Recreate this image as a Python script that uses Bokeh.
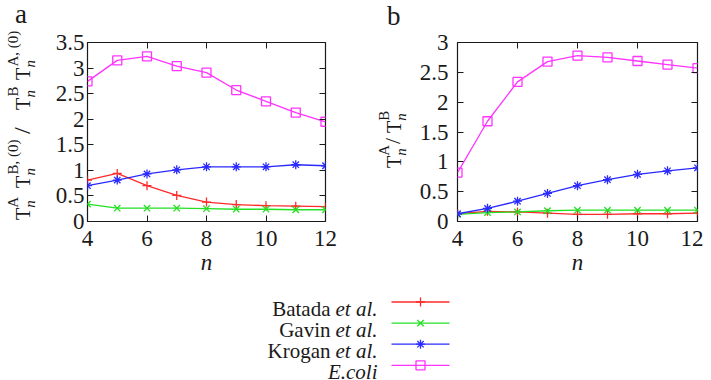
import numpy as np
from bokeh.plotting import figure
from bokeh.models import Range1d, FixedTicker, LinearAxis, CustomJSTickFormatter, Div
from bokeh.layouts import row, column
from bokeh.embed import file_html
from bokeh.resources import INLINE

# ---------------- data ----------------
n = [4, 5, 6, 7, 8, 9, 10, 11, 12]
series_names = ["Batada et al.", "Gavin et al.", "Krogan et al.", "E.coli"]

a_batada = [0.81, 0.94, 0.70, 0.51, 0.38, 0.33, 0.31, 0.30, 0.29]
a_gavin = [0.34, 0.26, 0.26, 0.26, 0.25, 0.24, 0.24, 0.23, 0.23]
a_krogan = [0.70, 0.81, 0.93, 1.01, 1.07, 1.07, 1.07, 1.11, 1.09]
a_ecoli = [2.74, 3.15, 3.23, 3.04, 2.91, 2.57, 2.35, 2.13, 1.95]

b_batada = [0.13, 0.17, 0.16, 0.14, 0.12, 0.12, 0.13, 0.13, 0.14]
b_gavin = [0.12, 0.15, 0.16, 0.18, 0.19, 0.19, 0.19, 0.19, 0.19]
b_krogan = [0.13, 0.22, 0.34, 0.47, 0.60, 0.70, 0.79, 0.85, 0.90]
b_ecoli = [0.82, 1.68, 2.34, 2.68, 2.78, 2.75, 2.69, 2.63, 2.57]

x_ticks = [4, 6, 8, 10, 12]
a_yticks = [0, 0.5, 1, 1.5, 2, 2.5, 3, 3.5]
b_yticks = [0, 0.5, 1, 1.5, 2, 2.5, 3]

# ---------------- style ----------------
colors = ["#ff2a2a", "#22e022", "#2a2aff", "#ff33ff"]
markers = ["cross", "x", "asterisk", "square"]
SERIF = "Liberation Serif"
INK = "#1a1a1a"
FH = 179                     # frame height
TOPB, BOTB = 42, 66          # top / bottom borders of the panels
PH = TOPB + FH + BOTB        # panel figure height
ASC = 0.8375                 # baseline position inside a line box of line-height 1em


def style_axes(p, yticks, ystandoff):
    fmt = CustomJSTickFormatter(code="return tick.toString();")
    p.add_layout(LinearAxis(), "above")
    p.add_layout(LinearAxis(), "right")
    for ax in p.xaxis:
        ax.ticker = FixedTicker(ticks=x_ticks)
    for ax in p.yaxis:
        ax.ticker = FixedTicker(ticks=yticks)
    for ax in list(p.xaxis) + list(p.yaxis):
        ax.formatter = fmt
        ax.axis_line_color = None
        ax.major_tick_in = 6
        ax.major_tick_out = 0
        ax.major_tick_line_color = INK
        ax.major_tick_line_width = 1
        ax.minor_tick_line_color = None
        ax.major_label_text_font = SERIF
        ax.major_label_text_font_size = "23px"
        ax.major_label_text_color = INK
    for ax in [p.above[0], p.right[0]]:
        ax.major_label_text_font_size = "0px"
        ax.major_label_standoff = 0
    p.below[0].major_label_standoff = 9
    p.left[0].major_label_standoff = ystandoff
    xa = p.below[0]
    xa.axis_label = "n"
    xa.axis_label_text_font = SERIF
    xa.axis_label_text_font_style = "italic"
    xa.axis_label_text_font_size = "23px"
    xa.axis_label_text_color = INK
    xa.axis_label_standoff = 1


def make_panel(frame_w, bl, br, y_end, yticks, ystandoff, series):
    p = figure(frame_width=frame_w, frame_height=FH,
               min_border_left=bl, min_border_right=br,
               min_border_top=TOPB, min_border_bottom=BOTB,
               x_range=Range1d(4, 12), y_range=Range1d(0, y_end),
               output_backend="svg", toolbar_location=None, tools="")
    p.xgrid.visible = False
    p.ygrid.visible = False
    p.outline_line_color = INK
    p.outline_line_width = 1.2
    p.background_fill_color = "white"
    p.border_fill_color = "white"
    style_axes(p, yticks, ystandoff)
    for vals, c, m in zip(series, colors, markers):
        p.line(n, vals, line_color=c, line_width=1.3)
        p.scatter(n, vals, marker=m, size=9, line_color=c, fill_color=None, line_width=1.3)
    return p


def span(text, left, top, size, style="normal"):
    return (f'<span style="position:absolute;left:{left}px;top:{top:.2f}px;white-space:nowrap;'
            f'font-family:\'Liberation Serif\',\'Times New Roman\',serif;font-size:{size}px;line-height:{size}px;'
            f'font-style:{style};color:{INK};">{text}</span>')


def label_div(width, letter, lx, lbase, base_x, start_y, pieces):
    """letter at (lx, baseline lbase); rotated label with main baseline at x=base_x, starting at y=start_y."""
    html = [f'<div style="position:relative;width:{width}px;height:{PH}px;">']
    html.append(span(letter, lx, lbase - ASC * 27, 27))
    L = base_x - ASC * 20
    inner = []
    for t, size, style, dv, s in pieces:
        v = ASC * 20 + dv              # baseline of this piece inside the rotated box
        inner.append(span(t, s, v - ASC * size, size, style))
    html.append(f'<div style="position:absolute;left:{L:.2f}px;top:{start_y}px;width:200px;height:30px;'
                f'transform-origin:0 0;transform:rotate(-90deg);">' + "".join(inner) + "</div>")
    html.append("</div>")
    return Div(text="".join(html), width=width, height=PH, margin=0)


LWA, LWB = 40, 45
pa = make_panel(238, 87 - LWA, 40, 3.5, a_yticks, 3, [a_batada, a_gavin, a_krogan, a_ecoli])
pb = make_panel(240, 457 - (LWA + (87 - LWA) + 238 + 40) - LWB, 6, 3.0, b_yticks, 9,
                [b_batada, b_gavin, b_krogan, b_ecoli])

SUB, SUP = 5.5, -11.0
pieces_a = [
    ("T", 20, "normal", 0, 0), ("n", 15, "italic", SUB, 12.2), ("A", 15, "normal", SUP, 12.2),
    ("T", 20, "normal", 0, 32), ("n", 15, "italic", SUB, 44.5), ("B, (0)", 15, "normal", SUP, 45.5),
    ("/", 24, "normal", 0, 86),
    ("T", 20, "normal", 0, 110), ("n", 15, "italic", SUB, 122.5), ("B", 15, "normal", SUP, 123.5),
    ("T", 20, "normal", 0, 140), ("n", 15, "italic", SUB, 152.5), ("A, (0)", 15, "normal", SUP, 153.5),
]
pieces_b = [
    ("T", 20, "normal", 0, 0), ("n", 15, "italic", SUB, 12.2), ("A", 15, "normal", SUP, 12.2),
    ("/", 22, "normal", 0, 24),
    ("T", 20, "normal", 0, 35), ("n", 15, "italic", SUB, 47.2), ("B", 15, "normal", SUP, 47.2),
]
la = label_div(LWA, "a", 15, 24, 30, 220, pieces_a)
lb = label_div(LWB, "b", 22, 26, 36, 168, pieces_b)

# ---------------- legend ----------------
LH = 380 - PH
lg = figure(width=703, height=LH, x_range=Range1d(0, 703), y_range=Range1d(LH, 0),
            min_border=0, output_backend="svg", toolbar_location=None, tools="")
lg.axis.visible = False
lg.grid.visible = False
lg.outline_line_color = None
lg.background_fill_color = "white"
lg.border_fill_color = "white"

rows_y = [301.5 - PH + 21.1 * i for i in range(len(series_names))]
mains, itals = [], []
for name in series_names:
    if name.endswith(" et al."):
        mains.append(name[:-7])
        itals.append("et al.")
    else:
        mains.append("")
        itals.append(name)
text_y = [y + 7.0 for y in rows_y]
lg.text(x=[377] * 4, y=text_y, text=itals, text_font={"value": SERIF},
        text_font_size="21px", text_font_style="italic", text_color=INK,
        text_align="right", text_baseline="alphabetic")
lg.text(x=[377] * 3, y=text_y[:3], text=mains[:3], x_offset=-47, text_font={"value": SERIF},
        text_font_size="21px", text_color=INK, text_align="right", text_baseline="alphabetic")
for y, c, m in zip(rows_y, colors, markers):
    lg.segment(x0=391, y0=y, x1=449, y1=y, line_color=c, line_width=1.3)
    lg.scatter([420], [y], marker=m, size=9, line_color=c, fill_color=None, line_width=1.3)

layout = column(row(la, pa, lb, pb), lg)
open("out.html", "w").write(file_html(layout, INLINE))
